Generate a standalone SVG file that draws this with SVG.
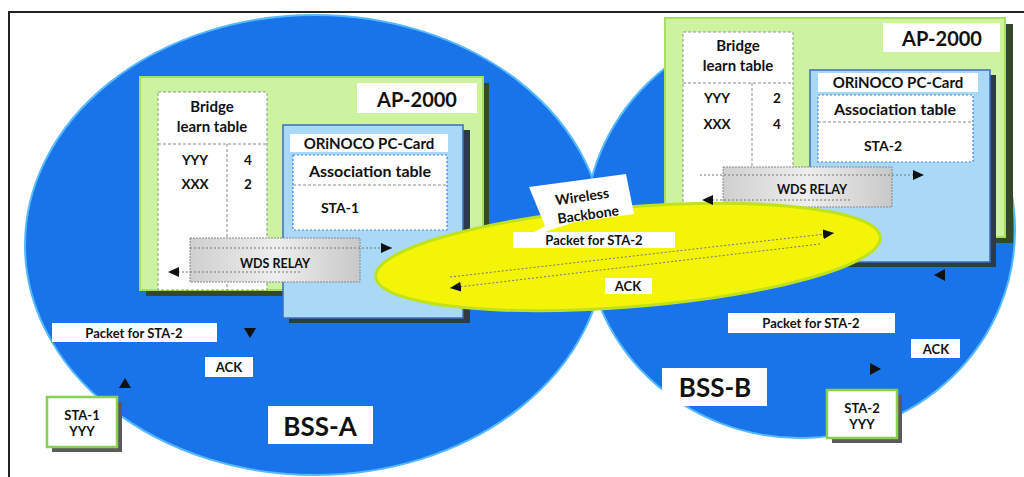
<svg xmlns="http://www.w3.org/2000/svg" width="1024" height="477" viewBox="0 0 1024 477">
<style>
.t{font-family:Lato,"Open Sans","Liberation Sans",sans-serif;font-weight:bold;fill:#111;text-anchor:middle;dominant-baseline:central}
.bss{fill:#1874e8;stroke:#55b8ff;stroke-width:2}
.ap{fill:#cdf2a0;stroke:#a6df5c;stroke-width:2}
.apsh{fill:#34492c}
.card{fill:#a9d9f7;stroke:#3a6ec0;stroke-width:1.5}
.cardsh{fill:#2d3a48}
.wb{fill:#fff}
.tbl{fill:#fff;stroke:#8a9a80;stroke-width:1;stroke-dasharray:3 2}
.assoc{fill:#fff;stroke:#3b82f6;stroke-width:1.2;stroke-dasharray:2 2}
.sep{stroke:#8a8a8a;stroke-width:1;stroke-dasharray:3 2;fill:none}
.wds{fill:url(#g);stroke:#888;stroke-width:1;stroke-dasharray:2 1}
.ln{stroke:#777;stroke-width:1;stroke-dasharray:2 2;fill:none;marker-end:url(#ah)}
.ah{fill:#111}
.sta{fill:#fff;stroke:#8bd050;stroke-width:2.5}
.stash{fill:#5a5a5a}
</style>
<defs>
<linearGradient id="g" x1="0" y1="0" x2="1" y2="0">
<stop offset="0" stop-color="#cfcfcf"/><stop offset="0.5" stop-color="#eeeeee"/><stop offset="1" stop-color="#c8c8c8"/>
</linearGradient>
<marker id="ah" markerUnits="userSpaceOnUse" markerWidth="11" markerHeight="10" refX="11" refY="5" orient="auto">
<path d="M0,0 L11,5 L0,10 Z" fill="#111"/>
</marker>
</defs>
<rect x="0" y="0" width="1024" height="477" fill="#fff"/>
<g id="frame" stroke="#222" stroke-width="2" fill="none">
<line x1="8" y1="12" x2="1024" y2="12"/>
<line x1="9" y1="12" x2="9" y2="477"/>
</g>
<g id="bss-a-area"><ellipse class="bss" cx="315" cy="245" rx="290" ry="230"/></g>
<g id="bss-b-area"><ellipse class="bss" cx="800" cy="230" rx="215" ry="208"/></g>

<g id="ap-left">
<rect class="apsh" x="146" y="83" width="343" height="213"/>
<rect class="ap" x="140" y="77" width="343" height="213"/>
<rect class="wb" x="357" y="83" width="120" height="30"/>
<text class="t" x="417" y="99" font-size="20">AP-2000</text>
<g id="bridge-left">
<rect class="tbl" x="158" y="92" width="109" height="198"/>
<text class="t" x="212" y="106" font-size="15">Bridge</text>
<text class="t" x="212" y="126" font-size="15">learn table</text>
<line class="sep" x1="158" y1="144" x2="267" y2="144"/>
<line class="sep" x1="227" y1="144" x2="227" y2="290"/>
<text class="t" x="195" y="160" font-size="13.5">YYY</text>
<text class="t" x="248" y="160" font-size="13.5">4</text>
<text class="t" x="195" y="184" font-size="13.5">XXX</text>
<text class="t" x="248" y="184" font-size="13.5">2</text>
</g>
<g id="card-left">
<rect class="cardsh" x="289" y="130" width="181" height="193"/>
<rect class="card" x="283" y="125" width="180" height="193"/>
<rect class="wb" x="290" y="134" width="158" height="18"/>
<text class="t" x="369" y="143" font-size="15">ORiNOCO PC-Card</text>
<rect class="assoc" x="293" y="155" width="154" height="75"/>
<line class="sep" x1="293" y1="185" x2="447" y2="185"/>
<text class="t" x="370" y="170" font-size="16">Association table</text>
<text class="t" x="340" y="207" font-size="14">STA-1</text>
</g>
<g id="wds-left">
<rect class="wds" x="190" y="238" width="170" height="44"/>
<text class="t" x="275" y="263" font-size="12.5">WDS RELAY</text>
</g>
</g>

<g id="ap-right">
<rect class="apsh" x="671" y="24" width="342" height="219"/>
<rect class="ap" x="665" y="18" width="340" height="219"/>
<rect class="wb" x="883" y="23" width="117" height="29"/>
<text class="t" x="942" y="38" font-size="20">AP-2000</text>
<g id="bridge-right">
<rect class="tbl" x="683" y="32" width="110" height="205"/>
<text class="t" x="738" y="45" font-size="15">Bridge</text>
<text class="t" x="738" y="65" font-size="15">learn table</text>
<line class="sep" x1="683" y1="83" x2="793" y2="83"/>
<line class="sep" x1="752" y1="83" x2="752" y2="237"/>
<text class="t" x="717" y="98" font-size="13.5">YYY</text>
<text class="t" x="777" y="98" font-size="13.5">2</text>
<text class="t" x="717" y="124" font-size="13.5">XXX</text>
<text class="t" x="777" y="124" font-size="13.5">4</text>
</g>
<g id="card-right">
<rect class="cardsh" x="816" y="75" width="180" height="192"/>
<rect class="card" x="810" y="70" width="180" height="192"/>
<rect class="wb" x="818" y="73" width="160" height="19"/>
<text class="t" x="898" y="82" font-size="15">ORiNOCO PC-Card</text>
<rect class="assoc" x="818" y="95" width="155" height="67"/>
<line class="sep" x1="818" y1="122" x2="973" y2="122"/>
<text class="t" x="895" y="108" font-size="16">Association table</text>
<text class="t" x="883" y="145" font-size="14">STA-2</text>
</g>
<g id="wds-right">
<rect class="wds" x="723" y="167" width="169" height="40"/>
<text class="t" x="812" y="189" font-size="12.5">WDS RELAY</text>
</g>
</g>

<g id="wireless-backbone">
<ellipse cx="628" cy="257" rx="253" ry="50" transform="rotate(-4.5 628 257)" fill="#f4f406" stroke="#bfe21a" stroke-width="3"/>
<path d="M529,187 L626,174 L634,214 L575,222 L520,240 L545,226 Z" fill="#fff"/>
<text class="t" x="582" y="196" font-size="14" transform="rotate(-8 582 196)">Wireless</text>
<text class="t" x="588" y="214" font-size="14" transform="rotate(-8 588 214)">Backbone</text>
</g>

<g id="connectors">
<line class="ln" x1="190" y1="248" x2="392" y2="248"/>
<line class="ln" x1="300" y1="272" x2="168" y2="272"/>
<line class="ln" x1="700" y1="175" x2="924" y2="175"/>
<line class="ln" x1="850" y1="200" x2="702" y2="200"/>
<line class="ln" x1="450" y1="277" x2="834" y2="233"/>
<line class="ln" x1="820" y1="244" x2="450" y2="288"/>
<path class="ah" d="M244,328 L256,328 L250,338 Z"/>
<path class="ah" d="M119,388 L131,388 L125,378 Z"/>
<path class="ah" d="M870,363 L881,369 L870,375 Z"/>
<path class="ah" d="M945,269 L934,275 L945,281 Z"/>
</g>

<g id="labels-left">
<rect class="wb" x="52" y="323" width="165" height="19"/>
<text class="t" x="134" y="333" font-size="13">Packet for STA-2</text>
<rect class="wb" x="205" y="357" width="48" height="20"/>
<text class="t" x="229" y="367" font-size="13">ACK</text>
</g>
<g id="labels-mid">
<rect class="wb" x="513" y="232" width="162" height="16"/>
<text class="t" x="594" y="240" font-size="13">Packet for STA-2</text>
<rect class="wb" x="605" y="278" width="47" height="16"/>
<text class="t" x="628" y="286" font-size="13">ACK</text>
</g>
<g id="labels-right">
<rect class="wb" x="728" y="313" width="167" height="20"/>
<text class="t" x="811" y="323" font-size="13">Packet for STA-2</text>
<rect class="wb" x="911" y="339" width="49" height="19"/>
<text class="t" x="936" y="349" font-size="13">ACK</text>
</g>

<g id="sta-1">
<rect class="stash" x="52" y="402" width="70" height="50"/>
<rect class="sta" x="47" y="397" width="70" height="50"/>
<text class="t" x="82" y="415" font-size="13">STA-1</text>
<text class="t" x="82" y="431" font-size="13">YYY</text>
</g>
<g id="sta-2">
<rect class="stash" x="832" y="395" width="70" height="48"/>
<rect class="sta" x="827" y="390" width="70" height="48"/>
<text class="t" x="862" y="408" font-size="13">STA-2</text>
<text class="t" x="862" y="424" font-size="13">YYY</text>
</g>
<g id="bss-a-label">
<rect class="wb" x="268" y="406" width="105" height="38"/>
<text class="t" x="320" y="426" font-size="26">BSS-A</text>
</g>
<g id="bss-b-label">
<rect class="wb" x="662" y="368" width="105" height="38"/>
<text class="t" x="715" y="387" font-size="26">BSS-B</text>
</g>
</svg>
